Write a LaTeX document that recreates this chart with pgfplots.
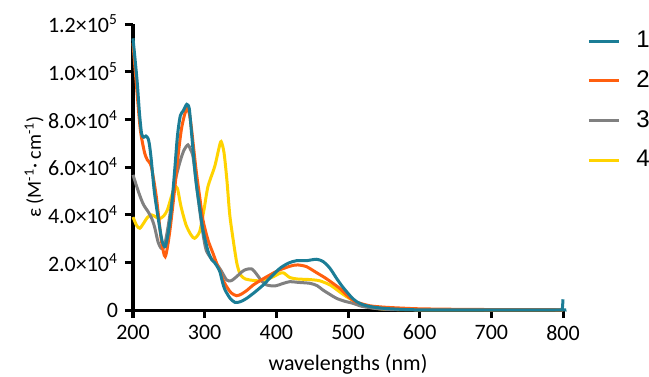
\documentclass[border=0pt]{standalone}
\usepackage{fontspec}
\setmainfont{Carlito}
\newfontfamily\arialfont{Liberation Sans}
\usepackage{pgfplots}
\pgfplotsset{compat=1.18}
\definecolor{cteal}{RGB}{27,125,150}
\definecolor{corange}{RGB}{255,95,15}
\definecolor{cgray}{RGB}{128,128,128}
\definecolor{cyellow}{RGB}{255,211,0}
\begin{document}
\begin{tikzpicture}
\begin{axis}[
  scale only axis, width=215pt, height=143pt,
  xmin=200, xmax=800, ymin=0, ymax=120000,
  axis lines=left, axis line style={-, line width=1.5pt},
  tick align=outside, major tick length=4pt,
  tick style={black, line width=1.5pt},
  xtick={200,300,...,800},
  ytick={0,20000,40000,60000,80000,100000,120000},
  scaled y ticks=false, scaled x ticks=false,
  yticklabels={0, 2.0×10\textsuperscript{4}, 4.0×10\textsuperscript{4}, 6.0×10\textsuperscript{4}, 8.0×10\textsuperscript{4}, 1.0×10\textsuperscript{5}, 1.2×10\textsuperscript{5}},
  /pgf/number format/assume math mode=true,
  xticklabel style={font=\fontsize{11}{13}\selectfont},
  yticklabel style={font=\fontsize{11}{13}\selectfont},
  label style={font=\fontsize{11}{13}\selectfont},
  xlabel={wavelengths (nm)},
  ylabel={ε (M\textsuperscript{-1}· cm\textsuperscript{-1})},
  every axis y label/.style={at={(axis description cs:-0.23,0.5)}, rotate=90, anchor=center},
  clip=false,
  reverse legend,
  legend style={draw=none, fill=none, at={(rel axis cs:1,1)}, anchor=north west,
    xshift=12pt, yshift=-1.5pt, font=\arialfont\fontsize{12}{14}\selectfont,
    row sep=6pt, column sep=6pt, inner sep=0pt, nodes={inner sep=2pt}},
  legend cell align=left,
  legend image code/.code={\draw[#1, line width=1.5pt] (0pt,0pt) -- (15pt,0pt);},
  every axis plot/.append style={line width=1.5pt, smooth, tension=0.45, mark=none},
]
% 4 yellow
\addplot[cyellow] coordinates {
(200,39000)(205,35500)(209.5,34300)(215,36500)(220,38800)(226,39900)(232,39000)(237,38300)(243,39500)(248,42000)(253,47000)(258,51500)(262,51000)(267,43400)(274,35700)(281,31500)(286,30100)(293,32900)(299,42000)(304.6,51800)(314,60200)(320,68000)(323,70700)(327,66000)(331,54600)(335,40000)(340,29000)(345,19500)(350,14700)(357,13000)(363,12600)(372,12300)(382,12300)(396,14000)(404,15300)(410,15600)(419,13600)(430,13000)(445,12800)(460,12300)(475,10500)(488,7700)(498,5600)(506,4200)(515,2600)(525,1500)(545,500)(570,200)(600,100)(700,50)(800,50)};
\addlegendentry{4}
% 3 gray
\addplot[cgray] coordinates {
(200,56700)(205,52000)(210,47600)(215,44000)(221,41300)(226,38500)(230,35000)(235,28500)(239,26000)(242,25900)(245,28500)(249,35000)(254,45000)(258,53200)(265,61600)(271,67000)(276.7,69300)(280,67500)(283.7,64400)(288.3,53200)(293,42000)(297.6,32200)(302,25200)(309,21700)(316,19600)(323,16500)(330.7,12600)(337,12300)(344.6,14000)(351,15800)(356,16800)(362,17300)(366,17200)(370,16000)(375,14000)(380,12000)(386.5,10500)(398,10100)(410,11200)(419,11900)(430,11600)(447,11200)(457,10200)(465,8400)(475,6500)(484,4900)(495,3700)(507,2800)(520,1500)(540,600)(560,200)(600,100)(700,50)(800,50)};
\addlegendentry{3}
% 2 orange
\addplot[corange] coordinates {
(200,112000)(204.6,95000)(209.3,78400)(211.6,72800)(216.3,65800)(220,63000)(225.5,60200)(232.5,47600)(239.5,29400)(245,22400)(251,32200)(258,50400)(262.8,64400)(267.4,75600)(272,82000)(275.7,84700)(278.5,82500)(281.3,77000)(288,58800)(293,47600)(297.6,37800)(304.6,29400)(311.6,23800)(318.5,18200)(321.3,16500)(325,13000)(330.7,9800)(337,7200)(344.6,6000)(352,6800)(360,8500)(367.8,10500)(380,12800)(391,14700)(402,16500)(414.4,17900)(423,18700)(430.6,18900)(442,18200)(456,15700)(468,13500)(479,11200)(490,8700)(498,6300)(505,4500)(512,3300)(530,1800)(550,1200)(575,800)(600,500)(650,300)(700,200)(800,100)};
\addlegendentry{2}
% 1 teal
\addplot[cteal] coordinates {
(200,114000)(205.6,96600)(209,82700)(212,74000)(215,72500)(218,73000)(221,72000)(223,69300)(225.5,63000)(230,49000)(237,35000)(241,28500)(245,26600)(249,32000)(253.4,42000)(258,58000)(262,73000)(266,81500)(270,83500)(275,86300)(278.5,84500)(281.3,75600)(285,63000)(288.3,53000)(293,43000)(297.6,33600)(304.6,24800)(310,21000)(314,19800)(318,18000)(321.3,16000)(325,11500)(328.3,8500)(335.3,5000)(342.3,3200)(350,3500)(358.6,4900)(370,7500)(381.7,10500)(393,14000)(405,17500)(417,19700)(428.3,20700)(442,20700)(456,21300)(465.4,20300)(474.8,17500)(484,13300)(491,10300)(498,7700)(505,5300)(512,3500)(520,2300)(530,1500)(550,700)(580,200)(600,100)(700,100)(797,100)(799,400)(800,4500)};
\addlegendentry{1}
\end{axis}
\pgfresetboundingbox
\path[use as bounding box] ([xshift=-66.5pt,yshift=-33pt]current axis.south west) rectangle ([xshift=43pt,yshift=12pt]current axis.north east);
\end{tikzpicture}
\end{document}
